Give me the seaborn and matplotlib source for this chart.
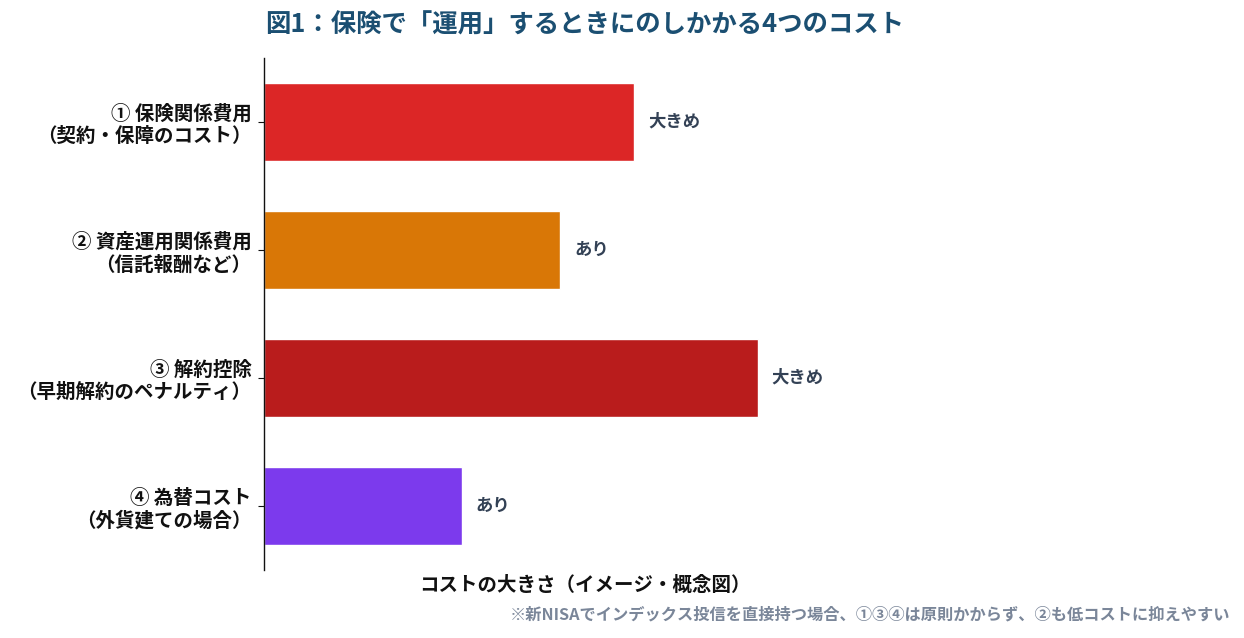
import matplotlib
matplotlib.use("Agg")
import matplotlib.pyplot as plt
import seaborn as sns
import pandas as pd

# --- data ---
categories = [
    "① 保険関係費用\n（契約・保障のコスト）",
    "② 資産運用関係費用\n（信託報酬など）",
    "③ 解約控除\n（早期解約のペナルティ）",
    "④ 為替コスト\n（外貨建ての場合）",
]
cost_level = [7.5, 6, 10, 4]          # conceptual size only
level_labels = ["大きめ", "あり", "大きめ", "あり"]
bar_colors = ["#DC2626", "#D97706", "#B91C1C", "#7C3AED"]

title = "図1：保険で「運用」するときにのしかかる4つのコスト"
xlabel = "コストの大きさ（イメージ・概念図）"
note = "※新NISAでインデックス投信を直接持つ場合、①③④は原則かからず、②も低コストに抑えやすい"

sns.set_theme(style="white")
plt.rcParams["font.family"] = ["Noto Sans CJK JP", "DejaVu Sans"]
plt.rcParams["font.weight"] = "bold"

df = pd.DataFrame({"category": categories, "level": cost_level})

fig = plt.figure(figsize=(12.44, 6.38), dpi=100)
ax = fig.add_axes([0.2122, 0.1066, 0.5161, 0.8025])

sns.barplot(data=df, y="category", x="level", hue="category",
            palette=bar_colors, width=0.61, legend=False, saturation=1, ax=ax)

for i, (v, lab) in enumerate(zip(cost_level, level_labels)):
    ax.text(v + 0.28, i, lab, va="center", ha="left", fontsize=12.5,
            fontweight="bold", color="#334155")

ax.set_xlim(0, 13)
ax.set_ylim(3.5, -0.5)
ax.set_xticks([])
ax.set_ylabel("")
ax.set_xlabel(xlabel, fontsize=14, fontweight="bold", color="#111111", labelpad=4)
ax.tick_params(axis="y", left=True, length=4, width=0.8, pad=5,
               labelsize=14, labelcolor="#111111", color="#111111")
for t in ax.get_yticklabels():
    t.set_fontweight("bold")

for s in ["top", "right", "bottom"]:
    ax.spines[s].set_visible(False)
ax.spines["left"].set_color("#111111")
ax.spines["left"].set_linewidth(1.0)

ax.set_title(title, fontsize=18.3, fontweight="bold", color="#1B4F72", pad=18)

fig.text(0.989, 0.037, note, ha="right", va="center", fontsize=11.7,
         fontweight="bold", color="#7A8699")

fig.savefig("out.png", dpi=100)
